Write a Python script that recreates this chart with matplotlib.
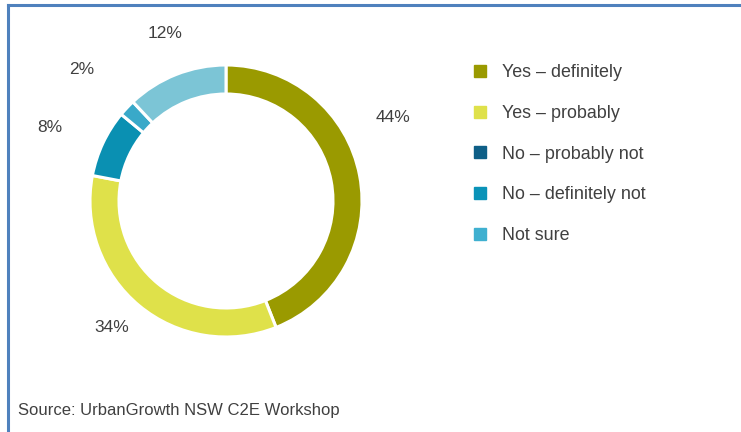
import matplotlib
matplotlib.use("Agg")
import matplotlib.pyplot as plt
from matplotlib.lines import Line2D

plt.rcParams['font.family'] = ['Liberation Sans', 'DejaVu Sans']

# Survey responses
categories = ["Yes – definitely", "Yes – probably", "No – probably not",
              "No – definitely not", "Not sure"]
legend_colors = ["#9a9a00", "#dfe14a", "#0e5f87", "#0a93b8", "#3fb0d0"]

# Ring segments (clockwise from the top)
ring_values = [44, 34, 8, 2, 12]
ring_colors = ["#9a9a00", "#dfe14a", "#0a90b2", "#39a9c9", "#7cc5d6"]
ring_labels = [f"{v}%" for v in ring_values]
# label offsets from the ring centre, in pixels
label_offsets = [(167, 83), (-114, -126), (-176, 73), (-144, 131), (-61, 168)]

W, H, DPI = 741, 432, 100
fig = plt.figure(figsize=(W / DPI, H / DPI), dpi=DPI)
fig.patch.set_facecolor("white")

# Ring axes, in pixel units around the centre
cx, cy, half = 226, 201, 200
ax = fig.add_axes([(cx - half) / W, (H - cy - half) / H, 2 * half / W, 2 * half / H])
ax.axis("off")

R = 136
ax.pie(ring_values, colors=ring_colors, startangle=90, counterclock=False,
       radius=R, wedgeprops=dict(width=29, edgecolor="white", linewidth=2.2))
ax.set_xlim(-half, half)
ax.set_ylim(-half, half)
ax.set_aspect("equal")

text_color = "#404040"
for lab, (dx, dy) in zip(ring_labels, label_offsets):
    ax.text(dx, dy, lab, ha="center", va="center", fontsize=12.5,
            color=text_color, clip_on=False)

# Legend
handles = [Line2D([], [], marker="s", linestyle="none", markersize=8.5,
                  markerfacecolor=c, markeredgecolor=c) for c in legend_colors]
fig.legend(handles, categories, loc="upper left",
           bbox_to_anchor=(462 / W, 1 - 55 / H), frameon=False,
           fontsize=12.9, labelcolor=text_color, handlelength=1.0,
           handletextpad=0.75, labelspacing=1.33, borderpad=0)

# Source note
fig.text(18 / W, 1 - 411 / H, "Source: UrbanGrowth NSW C2E Workshop",
         ha="left", va="center", fontsize=11.95, color=text_color)

# Frame edges (top and left)
border = "#4f81bd"
fig.add_artist(Line2D([7.5 / W, 1], [1 - 5 / H, 1 - 5 / H], color=border,
                      linewidth=2.2, transform=fig.transFigure))
fig.add_artist(Line2D([8 / W, 8 / W], [0, 1 - 5 / H], color=border,
                      linewidth=2.2, transform=fig.transFigure))

fig.savefig("out.png", dpi=DPI)
